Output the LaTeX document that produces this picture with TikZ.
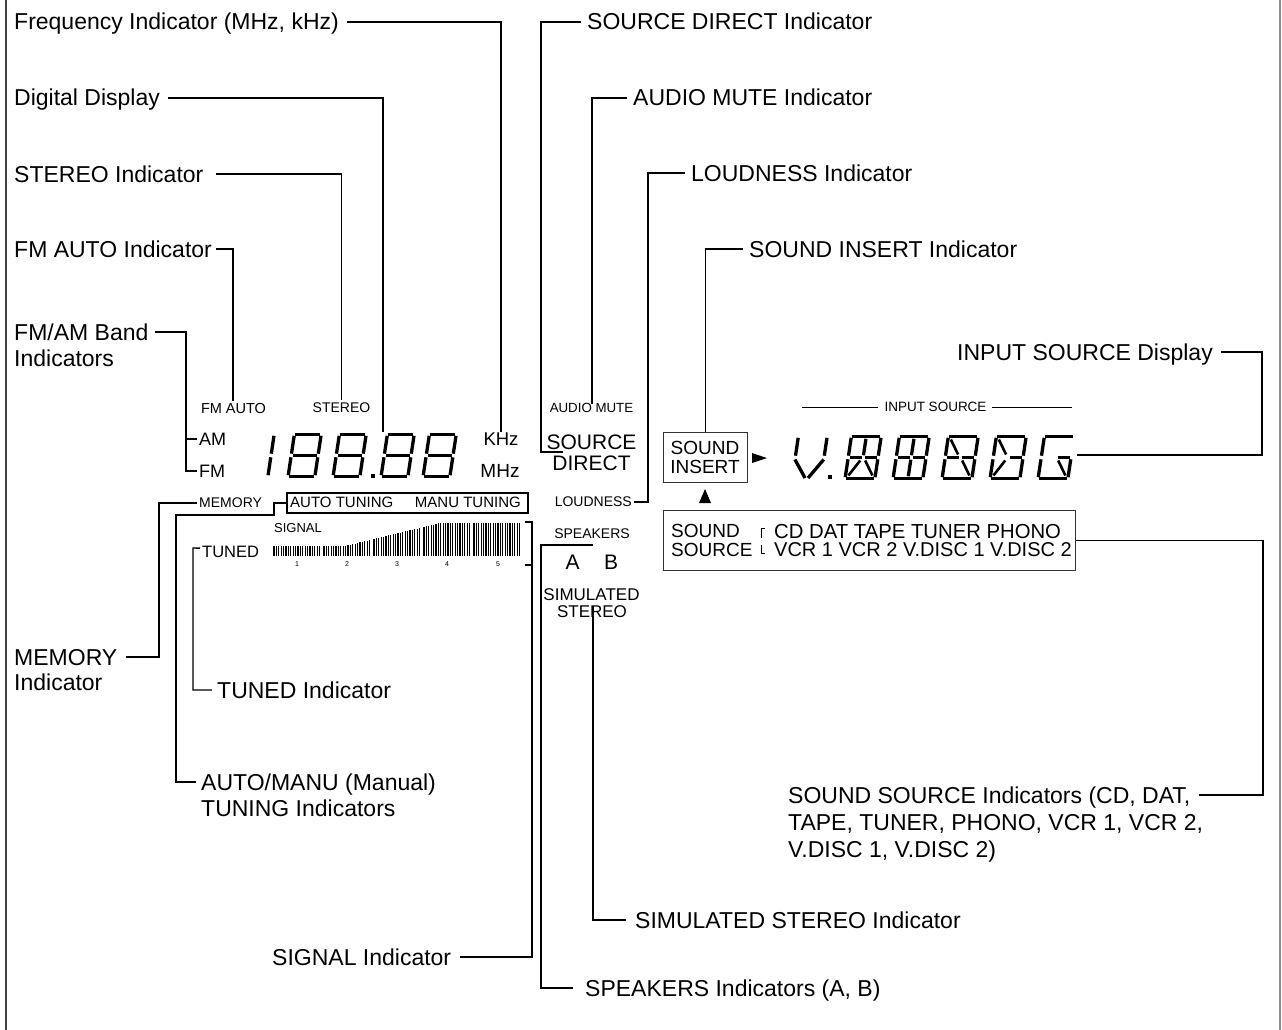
\documentclass[tikz,border=0pt]{standalone}
\usepackage{fontspec}
\setmainfont{Liberation Sans}
\usetikzlibrary{calc}
\pgfkeys{/seg/.cd,
 a/.code={\draw[segln] (2.5,1.6)--(\W-2.5,1.6);},
 b/.code={\draw[segln] (\W-1.6,2.8)--(\W-1.6,\M-1.8);},
 c/.code={\draw[segln] (\W-1.6,\M+1.8)--(\W-1.6,\H-2.8);},
 d/.code={\draw[segln] (2.5,\H-1.6)--(\W-2.5,\H-1.6);},
 e/.code={\draw[segln] (1.6,\M+1.8)--(1.6,\H-2.8);},
 f/.code={\draw[segln] (1.6,2.8)--(1.6,\M-1.8);},
 g/.code={\draw[segln] (3,\M)--(\W-3,\M);},
 p/.code={\draw[segln] (3,\M)--(\W/2-1.5,\M);},
 q/.code={\draw[segln] (\W/2+1.5,\M)--(\W-3,\M);},
 i/.code={\draw[segln] (\W/2,3.8)--(\W/2,\M-2.2);},
 l/.code={\draw[segln] (\W/2,\M+2.2)--(\W/2,\H-3.8);},
 h/.code={\draw[segln,line width=2.6pt] (4.5,4.5)--(\W/2-2.5,\M-3);},
 j/.code={\draw[segln,line width=2.6pt] (\W-4.5,4.5)--(\W/2+2.5,\M-3);},
 m/.code={\draw[segln,line width=2.6pt] (\W/2-2.5,\M+3)--(4.5,\H-4.5);},
 k/.code={\draw[segln,line width=2.6pt] (\W/2+2.5,\M+3)--(\W-4.5,\H-4.5);},
 vl/.code={\draw[segln] (1.6,\M+2)--(\W/2-1.5,\H-2);},
 vr/.code={\draw[segln] (\W-1.6,\M+2)--(\W/2+1.5,\H-2);},
}
\newcommand\segchar[4]{%
 \begin{scope}[shift={(#1,#2)},xslant=0.15]
 \def\W{#3}\def\H{45}\def\M{22.5}%
 \foreach \s in {#4}{\edef\segtmp{\noexpand\pgfkeys{/seg/\s}}\segtmp}%
 \end{scope}}
\begin{document}
\begin{tikzpicture}[x=1pt,y=-1pt,
  lab/.style={font=\fontsize{23pt}{26pt}\selectfont, inner sep=0pt, text height=16pt, text depth=0pt},
  dl/.style 2 args={font=\fontsize{#1pt}{#1pt}\selectfont, inner sep=0pt, text height=#2pt, text depth=0pt},
  conn/.style={line width=1.4pt, black},
  segln/.style={line width=3.3pt, line cap=butt},
  panel/.style={draw=black!80, line width=1.1pt},
]
\useasboundingbox (0,0) rectangle (1282,1030);
\fill[white] (0,0) rectangle (1282,1030);
% frame
\draw[line width=1.6pt, black!75] (6,0) -- (6,1030);
\draw[line width=1.2pt, black!45] (1280,0) -- (1280,1030);

% ---------- left display ----------
\node[dl={14.5}{10.1}] (fmauto) at (233.5,408) {FM AUTO};
\node[dl={14}{9.7}] (stereo) at (341.5,408) {STEREO};
\node[dl={18}{12.4},anchor=west] (am) at (199,439) {AM};
\node[dl={18}{12.4},anchor=west] (fm) at (199,471) {FM};
\node[dl={18.5}{12.8}] (khz) at (501,439) {KHz};
\node[dl={19}{13.1}] (mhz) at (500,471) {MHz};
\segchar{245}{433}{31}{b,c}
\segchar{293}{433}{30}{a,b,c,d,e,f,g}
\segchar{338}{433}{30}{a,b,c,d,e,f,g}
\fill (371,474) rectangle (375,478);
\segchar{386}{433}{30}{a,b,c,d,e,f,g}
\segchar{428}{433}{30}{a,b,c,d,e,f,g}
\node[dl={14}{9.7},anchor=west] (memory) at (199,503) {MEMORY};
\node[draw, line width=1.6pt, minimum width=241pt, minimum height=20pt, inner sep=0pt, anchor=north west] (atbox) at (286,492) {};
\node[dl={15}{10.4},anchor=west] (autot) at (290,502) {AUTO TUNING};
\node[dl={15}{10.4},anchor=east] (manut) at (521,502) {MANU TUNING};
\node[dl={13}{9},anchor=west] (signal) at (274,528) {SIGNAL};
\node[dl={16.5}{11.4},anchor=west] (tuned) at (202,552) {TUNED};
% signal meter
\foreach \g in {0,...,4}{\foreach \j in {0,...,19}{%
  \pgfmathsetmacro\xx{274+\g*50+\j*2.4}%
  \pgfmathsetmacro\ytop{546-23*min(1,max(0,(\xx-345)/95))}%
  \draw[line width=1.35pt] (\xx,556)--(\xx,\ytop);}}
\foreach \n/\xp in {1/297,2/347,3/397,4/447,5/498}
  \node[dl={7}{5}] (num\n) at (\xp,564) {\n};

% ---------- middle ----------
\node[dl={13.3}{9.2}] (mute) at (591.5,408) {AUDIO MUTE};
\node[dl={21}{14.5}] (source) at (591.5,442) {SOURCE};
\node[dl={21}{14.5}] (direct) at (591.5,463) {DIRECT};
\node[dl={14}{9.7},anchor=east] (loud) at (632,502) {LOUDNESS};
\node[dl={14}{9.7}] (spk) at (592,534) {SPEAKERS};
\node[dl={21}{14.5}] (spkA) at (572.5,562) {A};
\node[dl={21}{14.5}] (spkB) at (611,562) {B};
\node[dl={17}{11.7}] (simu) at (591.5,595) {SIMULATED};
\node[dl={17}{11.7}] (simst) at (592,612) {STEREO};

% ---------- right display ----------
\node[panel, minimum width=84pt, minimum height=50pt, inner sep=0pt, anchor=north west] (sibox) at (663,432) {};
\node[dl={19}{13.1}] (siA) at (705,448) {SOUND};
\node[dl={19}{13.1}] (siB) at (705,467) {INSERT};
\fill (752,453) -- (767,458) -- (752,463) -- cycle;
\fill (705,489) -- (711,503) -- (699,503) -- cycle;
\node[panel, minimum width=412pt, minimum height=60pt, inner sep=0pt, anchor=north west] (ssbox) at (663,510) {};
\node[dl={19}{13.1},anchor=west] (ssS1) at (671,531) {SOUND};
\node[dl={19}{13.1},anchor=west] (ssS2) at (671,550) {SOURCE};
\draw[line width=0.8pt] (765,528) -- (761,528) -- (761,538);
\draw[line width=0.8pt] (761,545) -- (761,553) -- (765,553);
\node[dl={20.3}{14},anchor=west] (ssT1) at (774,531) {CD DAT TAPE TUNER PHONO};
\node[dl={20}{13.8},anchor=west] (ssT2) at (774,550) {VCR 1 VCR 2 V.DISC 1 V.DISC 2};
\node[dl={13.5}{9.3}] (inps) at (935.5,407) {INPUT SOURCE};
\draw[line width=0.8pt] ([xshift=-6]inps.west) -- ([xshift=-82]inps.west);
\draw[line width=0.8pt] ([xshift=5]inps.east) -- ([xshift=85]inps.east);
\segchar{797}{435}{32}{f,b,vl,vr}
\fill (828,475) rectangle (832,479);
\segchar{850}{435}{33}{a,b,c,d,e,f,p,q,i,m,k}
\segchar{898}{435}{33}{a,b,c,d,e,f,p,q,i,l}
\segchar{947}{435}{33}{a,b,c,d,e,f,p,q,h,k}
\segchar{995}{435}{33}{a,b,c,d,e,f,q,h,m}
\segchar{1043}{435}{33}{a,f,e,d,c,q,k}

% ---------- labels ----------
\node[lab,anchor=west] (freq) at (14,22) {Frequency Indicator (MHz, kHz)};
\node[lab,anchor=west] (digital) at (14,98) {Digital Display};
\node[lab,anchor=west] (stereoL) at (14,174) {STEREO Indicator};
\node[lab,anchor=west] (fmautoL) at (14,249) {FM AUTO Indicator};
\node[lab,anchor=west] (fmamA) at (14,332) {FM/AM Band};
\node[lab,anchor=west] (fmamB) at (14,358) {Indicators};
\node[lab,anchor=west] (memA) at (14,657) {MEMORY};
\node[lab,anchor=west] (memB) at (14,682) {Indicator};
\node[lab,anchor=west] (tunedL) at (217,690) {TUNED Indicator};
\node[lab,anchor=west] (amA) at (201,782) {AUTO/MANU (Manual)};
\node[lab,anchor=west] (amB) at (201,808) {TUNING Indicators};
\node[lab,anchor=west] (signalL) at (272,957) {SIGNAL Indicator};
\node[lab,anchor=west] (spkL) at (585,988) {SPEAKERS Indicators (A, B)};
\node[lab,anchor=west] (simL) at (635,920) {SIMULATED STEREO Indicator};
\node[lab,anchor=west] (sdL) at (587,22) {SOURCE DIRECT Indicator};
\node[lab,anchor=west] (muteL) at (633,98) {AUDIO MUTE Indicator};
\node[lab,anchor=west] (loudL) at (691,173) {LOUDNESS Indicator};
\node[lab,anchor=west] (siL) at (749,249) {SOUND INSERT Indicator};
\node[lab,anchor=east] (isL) at (1213,352) {INPUT SOURCE Display};
\node[lab,anchor=west] (ssA) at (788,795) {SOUND SOURCE Indicators (CD, DAT,};
\node[lab,anchor=west] (ssB) at (788,822) {TAPE, TUNER, PHONO, VCR 1, VCR 2,};
\node[lab,anchor=west] (ssC) at (788,849) {V.DISC 1, V.DISC 2)};

% ---------- coordinates ----------
\coordinate (d3top) at (383,432);
\coordinate (fmautoTop) at (233,401);
\coordinate (tunedC) at (193,548);
\coordinate (autoA) at (176,515);
\coordinate (autoB) at (274,515);
\coordinate (mTop) at (532,522);
\coordinate (mTopL) at (525,522);
\coordinate (mTickR) at (532,565);
\coordinate (mTickL) at (525,565);
\coordinate (spkC) at (541,545);
\coordinate (spkD) at (593,545);
\coordinate (simTop) at (593,606);
\coordinate (sdC) at (541,452);
\coordinate (sdD) at (563,452);
\coordinate (muteTop) at (592,404);
\coordinate (loudC) at (648,502);
\coordinate (isC) at (1262,455);
\coordinate (isEnd) at (1077,455);

% ---------- connectors ----------
\draw[conn] ([xshift=8]freq.east) -| (khz.north);
\draw[conn] ([xshift=8]digital.east) -| (d3top);
\draw[conn] ([xshift=12]stereoL.east) -| ([yshift=3]stereo.north);
\draw[conn] ([xshift=4]fmautoL.east) -| (fmautoTop);
\draw[conn] ([xshift=6]fmamA.east) -| ([xshift=-13]fm.west) -- ([xshift=-2]fm.west);
\draw[conn] ([xshift=-13]am.west) -- ([xshift=-2]am.west);
\draw[conn] ([xshift=9]memA.east) -| ([xshift=-40]memory.west) -- ([xshift=-2]memory.west);
\draw[conn] ([xshift=-5]tunedL.west) -| (tunedC) -- ([xshift=-2,yshift=-2]tuned.north west);
\draw[conn] ([xshift=-5]amA.west) -| (autoA) -- (autoB) |- (atbox.west);
\draw[conn] ([xshift=9]signalL.east) -| (mTop) -- (mTopL);
\draw[conn] (mTickL) -- (mTickR);
\draw[conn] ([xshift=-12]spkL.west) -| (spkC) -- (spkD);
\draw[conn] ([xshift=-9]simL.west) -| (simTop);
\draw[conn] ([xshift=-6]sdL.west) -| (sdC) -- (sdD);
\draw[conn] ([xshift=-6]muteL.west) -| (muteTop);
\draw[conn] ([xshift=-6]loudL.west) -| (loudC) -- ([xshift=2]loud.east);
\draw[conn] ([xshift=-6]siL.west) -| (sibox.north);
\draw[conn] ([xshift=8]isL.east) -| (isC) -- (isEnd);
\draw[conn] ([xshift=8]ssA.east) -| ([xshift=187]ssbox.east) -- (ssbox.east);
\end{tikzpicture}
\end{document}
